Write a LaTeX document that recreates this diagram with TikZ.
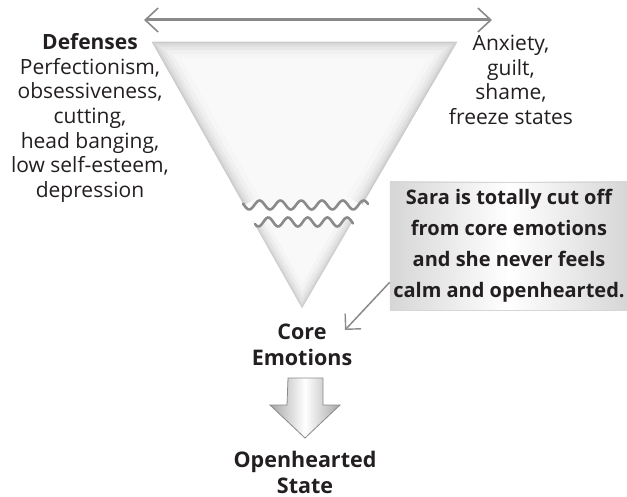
\documentclass[tikz,border=0pt]{standalone}
\usepackage{fontspec}
\setmainfont{Open Sans}
\usetikzlibrary{arrows.meta,positioning,calc}
\definecolor{Ink}{HTML}{231F20}
\definecolor{Rim}{HTML}{8A8A8A}
\definecolor{Fog}{HTML}{A6A6A6}
\definecolor{Mist}{HTML}{D6D6D6}
\tikzset{
  >=Latex,
  cutline/.style={draw=Rim,line width=2.6pt,line cap=round},
  span/.style={{Straight Barb[length=13pt,width=24pt,line width=1.6pt]}-{Straight Barb[length=13pt,width=24pt,line width=1.6pt]},draw=Rim,line width=3pt},
  callout/.style={-{Straight Barb[length=11pt,width=22pt,line width=1.4pt]},draw=Rim,line width=1.5pt},
  lst/.style={align=center,text=Ink,font=\fontsize{21}{24.6}\selectfont},
  head/.style={align=center,text=Ink,inner sep=1pt,font=\bfseries\fontsize{21.5}{26}\selectfont},
  note/.style={left color=Mist,right color=Mist,middle color=white,draw=Mist,line width=.6pt,
    minimum width=232pt,minimum height=128pt,align=center,text=Ink,
    font=\bfseries\fontsize{20}{31}\selectfont},
  blockarr/.style={left color=Fog,right color=Fog,middle color=white,draw=Rim,line width=.8pt}
}
\begin{document}
\begin{tikzpicture}[x=1pt,y=-1pt]
\useasboundingbox (0,0) rectangle (627,497);
% funnel, upper part
\begin{scope}
  \clip (152,42) -- (457,42) -- (362,205)
    -- plot[domain=362:244,samples=80] (\x,{205+4.5*sin((\x-244)/20.8*360)}) -- cycle;
  \fill[gray!5] (140,30) rectangle (470,215);
  \foreach \w/\c in {34/7,24/12,16/18,10/25,5/33,2/40}
    \draw[line width=\w pt,gray!\c,line join=round] (244,205) -- (152,42) -- (457,42) -- (362,205);
\end{scope}
% funnel, lower part
\begin{scope}
  \clip (253.5,222)
    -- plot[domain=253.5:352,samples=70] (\x,{222+4.5*sin((\x-253.5)/19.7*360)})
    -- (302,308) -- cycle;
  \fill[gray!5] (240,210) rectangle (365,310);
  \foreach \w/\c in {24/9,16/15,10/22,5/30,2/38}
    \draw[line width=\w pt,gray!\c,line join=round] (253.5,222) -- (302,308) -- (352,222);
\end{scope}
\draw[cutline] plot[domain=243:368,samples=90] (\x,{205+4.5*sin((\x-244)/20.8*360)});
\draw[cutline] plot[domain=255:353,samples=70] (\x,{222+4.5*sin((\x-253.5)/19.7*360)});
% range arrow on top
\coordinate (lo) at (144,20);
\coordinate (hi) at (492,20);
\draw[span] (lo) -- (hi);
% side lists
\node[lst] (def) at (90,118) {\textbf{Defenses}\\Perfectionism,\\obsessiveness,\\cutting,\\head banging,\\low self-esteem,\\depression};
\node[lst] (anx) at (511,80) {Anxiety,\\guilt,\\shame,\\freeze states};
% note box
\node[note] (box) at (509,246) {Sara is totally cut off\\from core emotions\\and she never feels\\calm and openhearted.};
% core and open state
\node[head] (core) at (302,345) {Core\\Emotions};
\node[head] (open) at (305,472) {Openhearted\\State};
\coordinate (tip) at (345,330);
\draw[callout] ([yshift=28pt]box.south west) -- (tip);
\coordinate (blk) at (305,378);
\path[blockarr] ($(blk)+(-17,0)$) -- ++(35,0) -- ++(0,27) -- ++(17,0)
  -- (305,438) -- ++(-35,-33) -- ++(17,0) -- cycle;
\end{tikzpicture}
\end{document}
